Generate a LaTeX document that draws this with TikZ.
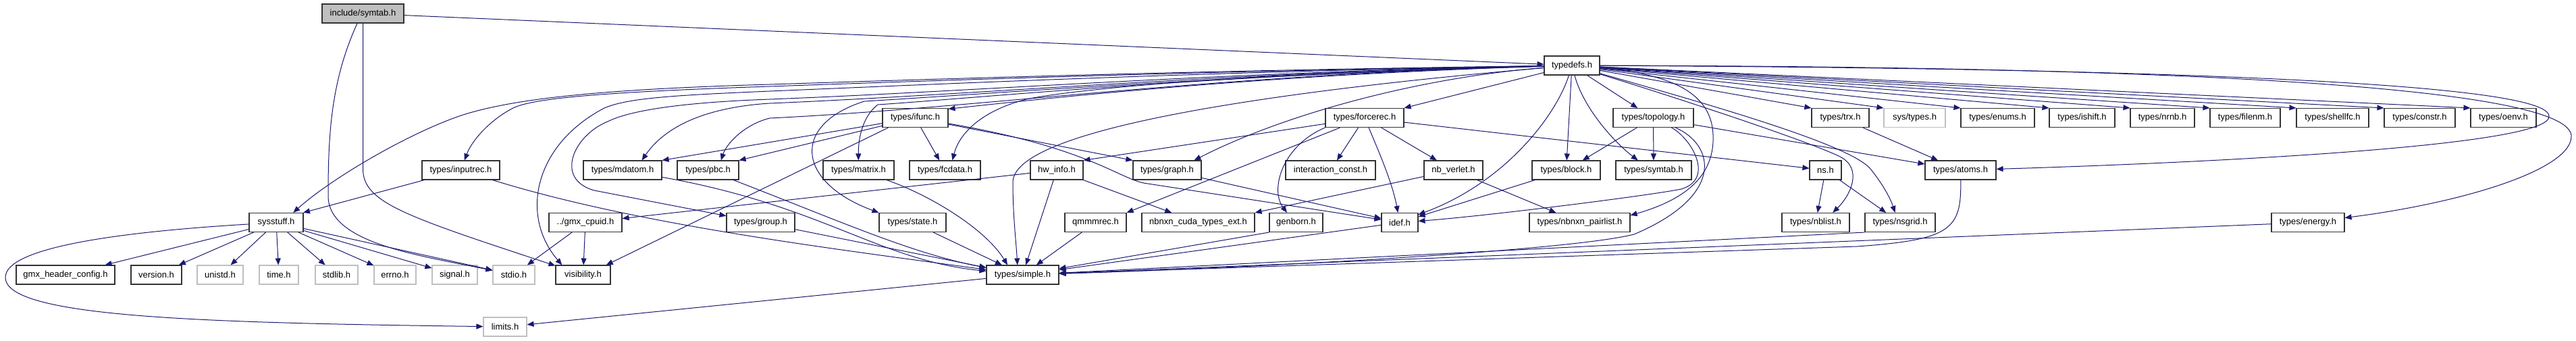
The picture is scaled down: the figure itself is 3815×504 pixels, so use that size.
\documentclass[tikz,border=0pt]{standalone}
\usepackage{fontspec}
\setmainfont{Liberation Sans}
\usepackage{tikz}
\usetikzlibrary{arrows.meta}

\definecolor{edgeblue}{RGB}{25,25,112}
\definecolor{sysgray}{RGB}{191,191,191}

\begin{document}
\begin{tikzpicture}[x=1pt, y=-1pt,
    hdr/.style={draw=black!80, line width=1.1pt, fill=white, minimum height=28, inner sep=0pt, font=\fontsize{13}{15}\selectfont},
    sysh/.style={hdr, draw=sysgray},
    root/.style={hdr, fill=sysgray},
    dep/.style={draw=edgeblue, line width=1pt, -{Triangle[length=10pt, width=8pt]}}]
    \useasboundingbox (0,0) rectangle (3815,504);

    \node[root, minimum width=121] (symtabinc) at (537.5,20) {include/symtab.h};
    \node[hdr, minimum width=82] (typedefs) at (2328,97) {typedefs.h};

    \node[hdr, minimum width=97] (ifunc) at (1355.5,174.5) {types/ifunc.h};
    \node[hdr, minimum width=116] (forcerec) at (2021,174.5) {types/forcerec.h};
    \node[hdr, minimum width=119] (topology) at (2448.5,174.5) {types/topology.h};
    \node[hdr, minimum width=85] (trx) at (2725.5,174.5) {types/trx.h};
    \node[sysh, minimum width=91] (systypes) at (2835.5,174.5) {sys/types.h};
    \node[hdr, minimum width=109] (enums) at (2958.5,174.5) {types/enums.h};
    \node[hdr, minimum width=97] (ishift) at (3083.5,174.5) {types/ishift.h};
    \node[hdr, minimum width=95] (nrnb) at (3202.5,174.5) {types/nrnb.h};
    \node[hdr, minimum width=104] (filenm) at (3325,174.5) {types/filenm.h};
    \node[hdr, minimum width=107] (shellfc) at (3454.5,174.5) {types/shellfc.h};
    \node[hdr, minimum width=105] (constr) at (3583.5,174.5) {types/constr.h};
    \node[hdr, minimum width=97] (oenv) at (3707.5,174.5) {types/oenv.h};

    \node[hdr, minimum width=115] (inputrec) at (682.5,252) {types/inputrec.h};
    \node[hdr, minimum width=116] (mdatom) at (922,252) {types/mdatom.h};
    \node[hdr, minimum width=91] (pbc) at (1048.5,252) {types/pbc.h};
    \node[hdr, minimum width=105] (matrix) at (1271.5,252) {types/matrix.h};
    \node[hdr, minimum width=105] (fcdata) at (1399.5,252) {types/fcdata.h};
    \node[hdr, minimum width=78] (hwinfo) at (1565,252) {hw\_info.h};
    \node[hdr, minimum width=101] (graph) at (1728.5,252) {types/graph.h};
    \node[hdr, minimum width=133] (interconst) at (1970.5,252) {interaction\_const.h};
    \node[hdr, minimum width=87] (nbverlet) at (2152.5,252) {nb\_verlet.h};
    \node[hdr, minimum width=101] (block) at (2319.5,252) {types/block.h};
    \node[hdr, minimum width=112] (tsymtab) at (2449,252) {types/symtab.h};
    \node[hdr, minimum width=47] (ns) at (2703.5,252) {ns.h};
    \node[hdr, minimum width=105] (atoms) at (2903.5,252) {types/atoms.h};

    \node[hdr, minimum width=80] (sysstuff) at (409,329.5) {sysstuff.h};
    \node[hdr, minimum width=108] (cpuid) at (867,329.5) {../gmx\_cpuid.h};
    \node[hdr, minimum width=101] (group) at (1126.5,329.5) {types/group.h};
    \node[hdr, minimum width=99] (state) at (1351.5,329.5) {types/state.h};
    \node[hdr, minimum width=91] (qmmm) at (1622.5,329.5) {qmmmrec.h};
    \node[hdr, minimum width=167] (cudaext) at (1774.5,329.5) {nbnxn\_cuda\_types\_ext.h};
    \node[hdr, minimum width=79] (genborn) at (1919.5,329.5) {genborn.h};
    \node[hdr, minimum width=54] (idef) at (2073,329.5) {idef.h};
    \node[hdr, minimum width=149] (pairlist) at (2339.5,329.5) {types/nbnxn\_pairlist.h};
    \node[hdr, minimum width=100] (nblist) at (2689,329.5) {types/nblist.h};
    \node[hdr, minimum width=104] (nsgrid) at (2814,329.5) {types/nsgrid.h};
    \node[hdr, minimum width=108] (energy) at (3418,329.5) {types/energy.h};

    \node[hdr, minimum width=146] (gmxhdr) at (97,407) {gmx\_header\_config.h};
    \node[hdr, minimum width=75] (version) at (231.5,407) {version.h};
    \node[sysh, minimum width=68] (unistd) at (326,407) {unistd.h};
    \node[sysh, minimum width=58] (timeh) at (413,407) {time.h};
    \node[sysh, minimum width=63] (stdlib) at (498.5,407) {stdlib.h};
    \node[sysh, minimum width=62] (errno) at (585,407) {errno.h};
    \node[sysh, minimum width=67] (signal) at (673.5,407) {signal.h};
    \node[sysh, minimum width=62] (stdio) at (761,407) {stdio.h};
    \node[hdr, minimum width=81] (visibility) at (863.5,407) {visibility.h};
    \node[hdr, minimum width=107] (simple) at (1514.5,407) {types/simple.h};
    \node[sysh, minimum width=64] (limits) at (748,484) {limits.h};

    \draw[dep] (symtabinc) -- (typedefs);
    \draw[dep] (symtabinc.-120) .. controls (490,120) and (486,200) .. (486,290) .. controls (486,360) and (620,378) .. (stdio);
    \draw[dep] (symtabinc.south) -- (537.5,250) .. controls (537.5,300) and (600,320) .. (visibility);

    \foreach \h in {gmxhdr,version,unistd,timeh,stdlib,errno,signal,stdio}
        \draw[dep] (sysstuff) -- (\h);
    \draw[dep] (sysstuff) .. controls (150,345) and (10,370) .. (8,410) .. controls (5,470) and (300,478) .. (limits);
    \draw[dep] (inputrec) -- (sysstuff.20);

    \draw[dep] (typedefs) .. controls (1800,104) and (1450,115) .. (1140,125) .. controls (900,132) and (760,145) .. (680,172) .. controls (600,200) and (490,265) .. (sysstuff.30);
    \draw[dep] (typedefs) .. controls (1800,105) and (1450,117) .. (1140,128) .. controls (900,136) and (790,145) .. (760,160) .. controls (730,175) and (700,205) .. (inputrec.70);
    \draw[dep] (typedefs) .. controls (1800,106) and (1450,122) .. (1140,135) .. controls (1000,141) and (930,145) .. (895,160) .. controls (790,215) and (770,320) .. (visibility.155);
    \draw[dep] (typedefs) .. controls (1800,107) and (1450,135) .. (1140,147) .. controls (1000,152) and (930,165) .. (900,180) .. controls (850,200) and (820,265) .. (880,282) -- (group);
    \draw[dep] (typedefs) .. controls (1800,108) and (1450,140) .. (1140,153) .. controls (1060,158) and (990,180) .. (mdatom.27);
    \draw[dep] (typedefs) .. controls (1800,110) and (1450,160) .. (1140,175) .. controls (1100,185) and (1075,215) .. (pbc.37);
    \draw[dep] (typedefs) .. controls (1800,110) and (1450,145) .. (1300,155) .. controls (1280,170) and (1271,200) .. (matrix);
    \draw[dep] (typedefs) .. controls (1800,112) and (1450,140) .. (1280,150) .. controls (1170,185) and (1180,270) .. (state.north west);
    \draw[dep] (typedefs) .. controls (1900,105) and (1600,130) .. (1520,147) .. controls (1450,165) and (1420,200) .. (fcdata.53);
    \draw[dep] (typedefs) .. controls (1900,110) and (1600,140) .. (ifunc.15);
    \draw[dep] (typedefs) .. controls (2000,125) and (1500,180) .. (1500,270) .. controls (1500,320) and (1505,360) .. (simple.118);
    \draw[dep] (typedefs) .. controls (2100,115) and (1900,170) .. (graph.20);
    \draw[dep] (typedefs) -- (forcerec.north east);
    \draw[dep] (typedefs) .. controls (2305,170) and (2230,270) .. (idef.23);
    \draw[dep] (typedefs) -- (block);
    \draw[dep] (typedefs) .. controls (2345,160) and (2390,210) .. (tsymtab.148);
    \draw[dep] (typedefs) -- (topology.148);

    \draw[dep] (typedefs) .. controls (2480,110) and (2535,140) .. (2537,200) .. controls (2540,270) and (2480,300) .. (pairlist.8);
    \draw[dep] (typedefs) .. controls (2500,150) and (2680,210) .. (2725,232) .. controls (2760,250) and (2740,290) .. (nblist.30);
    \draw[dep] (typedefs) .. controls (2550,160) and (2740,215) .. (2770,250) .. controls (2790,275) and (2800,295) .. (nsgrid.117);
    \foreach \h in {trx,systypes,enums,ishift,nrnb,filenm,shellfc,constr,oenv}
        \draw[dep] (typedefs) -- (\h.north west);
    \draw[dep] (typedefs) .. controls (3000,100) and (3775,115) .. (3775,172) .. controls (3780,215) and (3300,240) .. (atoms);
    \draw[dep] (typedefs) .. controls (3000,98) and (3795,115) .. (3808,200) .. controls (3812,250) and (3650,300) .. (energy);

    \draw[dep] (ifunc.-160) -- (visibility.23);
    \draw[dep] (ifunc) -- (mdatom.north east);
    \draw[dep] (ifunc) -- (pbc.north east);
    \draw[dep] (ifunc) -- (fcdata);
    \draw[dep] (ifunc) -- (graph.north west);
    \draw[dep] (ifunc) .. controls (1620,220) and (1660,268) .. (1700,272) -- (idef);
    \draw[dep] (graph) -- (idef);

    \draw[dep] (forcerec) -- (hwinfo.north east);
    \draw[dep] (forcerec) -- (qmmm.north east);
    \draw[dep] (forcerec.south west) .. controls (1900,215) and (1880,280) .. (genborn.133);
    \draw[dep] (forcerec) -- (interconst);
    \draw[dep] (forcerec) .. controls (2040,220) and (2062,270) .. (idef);
    \draw[dep] (forcerec) -- (nbverlet);
    \draw[dep] (forcerec) -- (ns);

    \draw[dep] (topology) .. controls (2505,205) and (2540,265) .. (2490,280) .. controls (2440,290) and (2200,320) .. (idef);
    \draw[dep] (topology) -- (block.31);
    \draw[dep] (topology) -- (tsymtab);
    \draw[dep] (topology) -- (atoms);
    \draw[dep] (topology) .. controls (2540,215) and (2555,290) .. (2420,347) .. controls (2330,370) and (1900,395) .. (simple);

    \draw[dep] (nbverlet) -- (pairlist);
    \draw[dep] (nbverlet) -- (cudaext.north east);
    \draw[dep] (block) -- (idef);
    \draw[dep] (hwinfo) -- (cpuid);
    \draw[dep] (hwinfo) -- (simple);
    \draw[dep] (hwinfo) -- (cudaext);
    \draw[dep] (cpuid) -- (stdio);
    \draw[dep] (cpuid) -- (visibility);
    \draw[dep] (trx) -- (atoms);
    \draw[dep] (ns) -- (nblist);
    \draw[dep] (ns) -- (nsgrid);

    \draw[dep] (inputrec) .. controls (950,335) and (1250,370) .. (simple);
    \draw[dep] (mdatom) .. controls (1220,305) and (1300,385) .. (simple);
    \draw[dep] (pbc) .. controls (1250,330) and (1350,375) .. (simple);
    \draw[dep] (group) -- (simple);
    \draw[dep] (matrix) .. controls (1380,290) and (1460,340) .. (simple.147);
    \draw[dep] (state) -- (simple);
    \draw[dep] (qmmm) -- (simple);
    \draw[dep] (genborn.south west) -- (simple);
    \draw[dep] (idef) -- (simple);
    \draw[dep] (atoms) .. controls (2905,340) and (2890,355) .. (2750,365) -- (simple);
    \draw[dep] (nsgrid.south west) -- (simple);
    \draw[dep] (energy) -- (simple);
    \draw[dep] (simple) -- (limits);
\end{tikzpicture}
\end{document}
